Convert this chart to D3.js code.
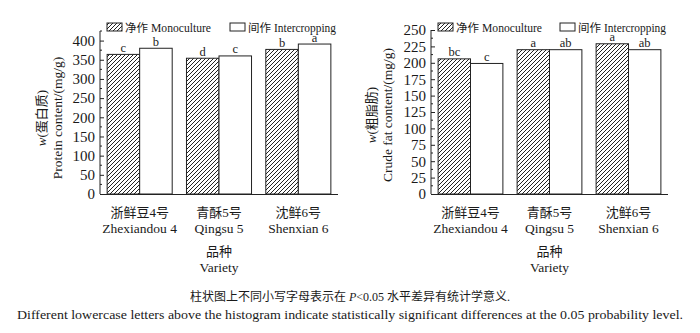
<!DOCTYPE html>
<html><head><meta charset="utf-8">
<script src="https://cdn.jsdelivr.net/npm/d3@7"></script>
<style>
body{margin:0;background:#fff;}
svg{display:block;}
text{fill:#1a1a1a;}
</style></head>
<body>
<svg id="c" width="700" height="333"></svg>
<script>
const varietiesCN = ["浙鲜豆4号", "青酥5号", "沈鲜6号"];
const varietiesEN = ["Zhexiandou 4", "Qingsu 5", "Shenxian 6"];
const seriesKeys = ["mono", "inter"];
const legendCN = ["净作", "间作"];
const legendEN = ["Monoculture", "Intercropping"];

const proteinMono = [364, 354, 377];
const proteinInter = [380, 360, 391];
const proteinMonoSig = ["c", "d", "b"];
const proteinInterSig = ["b", "c", "a"];
const proteinTicks = [0, 50, 100, 150, 200, 250, 300, 350, 400];

const fatMono = [206, 220, 229];
const fatInter = [199, 220, 220];
const fatMonoSig = ["bc", "a", "a"];
const fatInterSig = ["c", "ab", "ab"];
const fatTicks = [0, 25, 50, 75, 100, 125, 150, 175, 200, 225, 250];

const serif = "'Liberation Serif','Times New Roman',serif";
const cjk = "'Liberation Serif','Noto Sans CJK SC',serif";

const svg = d3.select("#c");
const defs = svg.append("defs");
const pat = defs.append("pattern").attr("id","hatch").attr("patternUnits","userSpaceOnUse")
  .attr("width",4).attr("height",4);
pat.append("rect").attr("width",4).attr("height",4).attr("fill","#fff");
pat.append("path").attr("d","M-1,1 l2,-2 M0,4 l4,-4 M3,5 l2,-2").attr("stroke","#222").attr("stroke-width",1);

function panel(opt){
  const g = svg.append("g");
  const x = d3.scaleBand().domain(varietiesEN).range([opt.x0, opt.x1]).paddingInner(0.18).paddingOuter(0.09);
  const xs = d3.scaleBand().domain(seriesKeys).range([0, x.bandwidth()]);
  const y = d3.scaleLinear().domain([0, opt.max]).range([194, opt.top]);

  const rows = varietiesEN.map((v,i)=>({v, mono:opt.mono[i], inter:opt.inter[i], ms:opt.ms[i], is:opt.is[i]}));
  rows.forEach(r=>{
    seriesKeys.forEach(k=>{
      const val = r[k];
      const bx = x(r.v)+xs(k);
      g.append("rect").attr("x",bx).attr("y",y(val)).attr("width",xs.bandwidth()).attr("height",y(0)-y(val))
        .attr("fill", k==="mono"?"url(#hatch)":"#fff").attr("stroke","#222").attr("stroke-width",1);
      g.append("text").attr("x",bx+xs.bandwidth()/2).attr("y",y(val)-2.5).attr("text-anchor","middle")
        .attr("font-family",serif).attr("font-size",12.5).text(k==="mono"?r.ms:r.is);
    });
  });

  const ax = d3.axisLeft(y).tickValues(opt.ticks).tickSize(-4).tickPadding(5).tickFormat(d3.format("d"));
  const ag = g.append("g").attr("transform",`translate(${opt.x0},0)`).call(ax);
  ag.select(".domain").attr("d",`M0,${opt.top}V194`).attr("stroke","#222");
  ag.selectAll(".tick line").attr("stroke","#222");
  ag.selectAll(".tick text").attr("font-family",serif).attr("font-size",15).attr("fill","#1a1a1a");
  const minor = d3.range(opt.minorStep, opt.max+0.01, opt.minorStep).filter(v=>!opt.ticks.includes(v));
  ag.selectAll(".minor").data(minor).enter().append("line").attr("x1",0).attr("x2",2)
    .attr("y1",d=>y(d)).attr("y2",d=>y(d)).attr("stroke","#222");

  g.append("line").attr("x1",opt.x0).attr("x2",opt.x1).attr("y1",194.5).attr("y2",194.5).attr("stroke","#222");

  varietiesEN.forEach((v,i)=>{
    const cx = x(v)+x.bandwidth()/2;
    g.append("text").attr("x",cx).attr("y",217).attr("text-anchor","middle").attr("font-family",cjk).attr("font-size",13).text(varietiesCN[i]);
    g.append("text").attr("x",cx).attr("y",233).attr("text-anchor","middle").attr("font-family",serif).attr("font-size",13.5).text(v);
  });
  const mid = (opt.x0+opt.x1)/2;
  g.append("text").attr("x",mid).attr("y",256).attr("text-anchor","middle").attr("font-family",cjk).attr("font-size",13).text("品种");
  g.append("text").attr("x",mid).attr("y",272).attr("text-anchor","middle").attr("font-family",serif).attr("font-size",13.5).text("Variety");

  const t1 = g.append("text").attr("transform",`translate(${opt.tx1},${opt.ty}) rotate(-90)`).attr("text-anchor","middle")
    .attr("font-family",cjk).attr("font-size",13);
  t1.append("tspan").attr("font-style","italic").attr("font-family",serif).text("w");
  t1.append("tspan").text(opt.titleCN);
  g.append("text").attr("transform",`translate(${opt.tx2},${opt.ty}) rotate(-90)`).attr("text-anchor","middle")
    .attr("font-family",serif).attr("font-size",13.5).text(opt.titleEN);

  const lg = g.append("g");
  [0,1].forEach(i=>{
    const lx = opt.legX[i];
    lg.append("rect").attr("x",lx).attr("y",23).attr("width",15).attr("height",8)
      .attr("fill", i===0?"url(#hatch)":"#fff").attr("stroke","#222");
    lg.append("text").attr("x",lx+18).attr("y",32).attr("font-family",cjk).attr("font-size",11.5).text(legendCN[i]);
    lg.append("text").attr("x",lx+44).attr("y",32).attr("font-family",serif).attr("font-size",12.5)
      .attr("textLength", i===0?60:62).attr("lengthAdjust","spacingAndGlyphs").text(legendEN[i]);
  });
}

panel({x0:100, x1:338, top:31, max:425, mono:proteinMono, inter:proteinInter, ms:proteinMonoSig, is:proteinInterSig,
  ticks:proteinTicks, minorStep:25, tx1:46, tx2:62, ty:118, titleCN:"(蛋白质)", titleEN:"Protein content/(mg/g)", legX:[107,230]});
panel({x0:431, x1:668, top:30, max:250, mono:fatMono, inter:fatInter, ms:fatMonoSig, is:fatInterSig,
  ticks:fatTicks, minorStep:12.5, tx1:376, tx2:392, ty:115, titleCN:"(粗脂肪)", titleEN:"Crude fat content/(mg/g)", legX:[438,560]});

const cap = svg.append("text").attr("x",350).attr("y",301).attr("text-anchor","middle").attr("font-family",cjk).attr("font-size",12);
cap.append("tspan").text("柱状图上不同小写字母表示在 ");
cap.append("tspan").attr("font-style","italic").attr("font-family",serif).text("P");
cap.append("tspan").text("<0.05 水平差异有统计学意义.");
svg.append("text").attr("x",350).attr("y",319).attr("text-anchor","middle").attr("font-family",serif).attr("font-size",12)
  .attr("textLength",666).attr("lengthAdjust","spacingAndGlyphs")
  .text("Different lowercase letters above the histogram indicate statistically significant differences at the 0.05 probability level.");
</script>
</body></html>
